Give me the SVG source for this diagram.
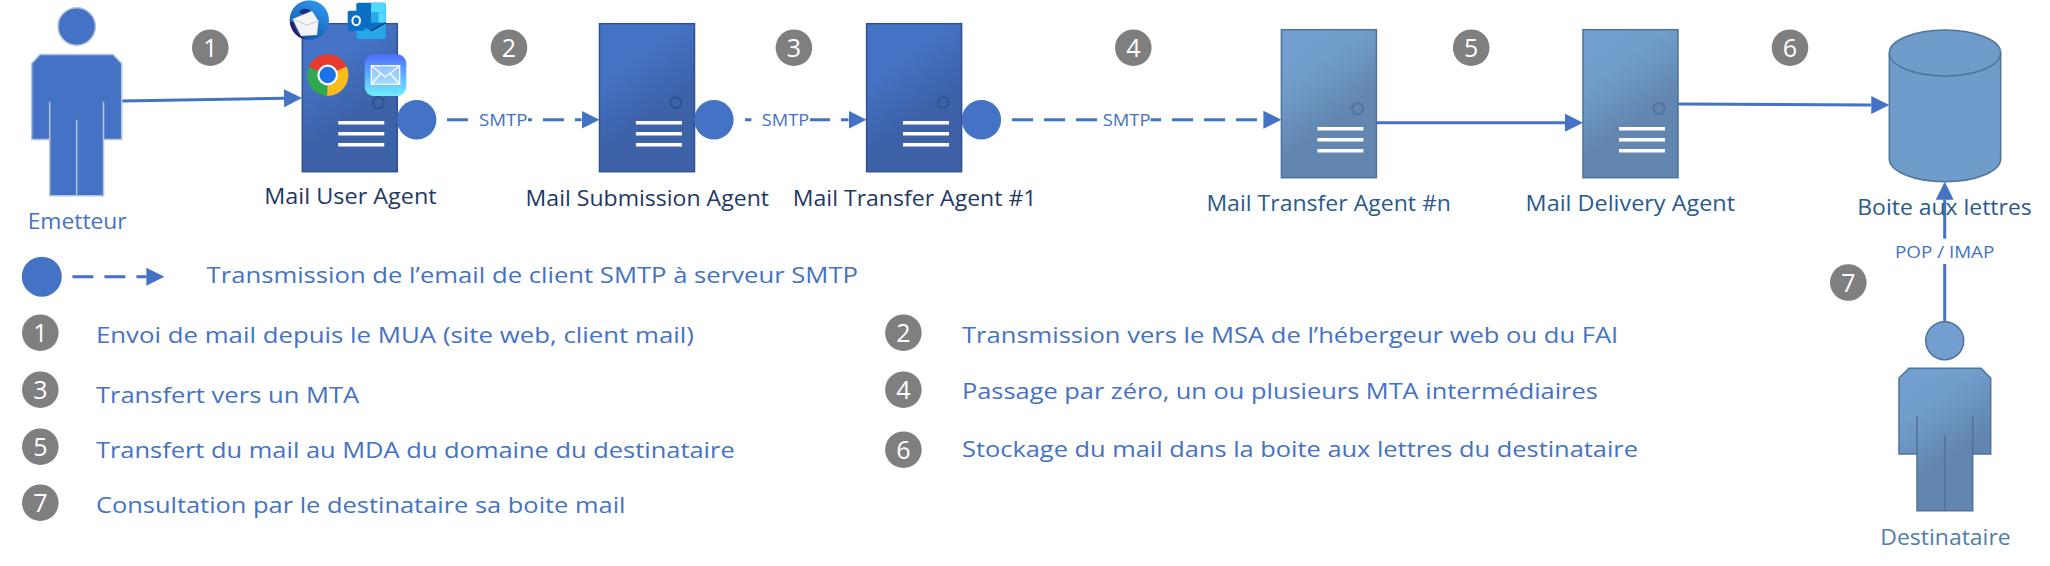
<svg xmlns="http://www.w3.org/2000/svg" width="2050" height="566" viewBox="0 0 2050 566">
<style>
text{font-family:"Open Sans","Noto Sans","Liberation Sans",sans-serif;font-size:22px}
.lg{fill:#4472C4}
.dark{fill:#1F3864}
.mid{fill:#2A5A8C}
.dest{fill:#4F7DA8}
.em{fill:#4472C4}
.sm{fill:#4472C4;font-size:17px}
.num{fill:#fff;font-size:25px;text-anchor:middle}
.bdg{fill:#7F7F7F}
.srvA{fill:url(#gA);stroke:#2F528F;stroke-width:1.5}
.srvB{fill:url(#gB);stroke:#4E739C;stroke-width:1.5}
.doorA{fill:none;stroke:#2F528F;stroke-width:2}
.doorB{fill:none;stroke:#4E739C;stroke-width:2}
.bar{fill:#fff}
.dot{fill:#4472C4}
.ln{fill:none;stroke:#4472C4;stroke-width:3}
.arrow{marker-end:url(#ah)}
.dash{stroke-dasharray:21 11}
.mask{fill:#fff}
.pA{fill:#4472C4;stroke:#B4C3E0;stroke-width:1.5}
.pB{fill:url(#gB);stroke:#4E739C;stroke-width:1.5}
.sepA{stroke:#B4C3E0;stroke-width:1.5}
.sepB{stroke:#4E739C;stroke-width:1.5}
</style>
<defs>
<linearGradient id="gA" x1="0.35" y1="0.05" x2="0.6" y2="0.6"><stop offset="0" stop-color="#4472C4"/><stop offset="0.3" stop-color="#4472C4"/><stop offset="1" stop-color="#3D62A8"/></linearGradient>
<linearGradient id="gB" x1="0.35" y1="0.05" x2="0.6" y2="0.6"><stop offset="0" stop-color="#729FCF"/><stop offset="0.3" stop-color="#719DCB"/><stop offset="1" stop-color="#6286B0"/></linearGradient>
<linearGradient id="gMail" x1="0" y1="0" x2="0" y2="1"><stop offset="0" stop-color="#4F6CFF"/><stop offset="1" stop-color="#6FEFFF"/></linearGradient>
<linearGradient id="gTb" x1="0.8" y1="0" x2="0.2" y2="1"><stop offset="0" stop-color="#2F9BEF"/><stop offset="1" stop-color="#0F4FA8"/></linearGradient>
<marker id="ah" markerUnits="userSpaceOnUse" markerWidth="19" markerHeight="20" refX="0" refY="9.5" orient="auto"><path d="M0 .5L18 9.5L0 18.5Z" fill="#4472C4"/></marker>
</defs>

<g id="connectors">
<path class="ln arrow" d="M121.7 101L284 98.2"/>
<path class="ln arrow dash" d="M447 119.7H581.5"/>
<path class="ln arrow dash" d="M745 119.7H848.5"/>
<path class="ln arrow dash" d="M1012 119.7H1263.4"/>
<path class="ln arrow" d="M1376.3 122.7H1565"/>
<path class="ln arrow" d="M1678 104L1871.300 105"/>
<path class="ln arrow" d="M1944.700 321.700V199.700"/>
<path class="ln arrow dash" d="M72.400 276.700H146.400"/>
<rect class="mask" x="475" y="108" width="53" height="24"/>
<rect class="mask" x="751.400" y="108" width="58.600" height="24"/>
<rect class="mask" x="1098" y="108" width="52.500" height="24"/>
<rect class="mask" x="1890" y="238.700" width="108" height="25.300"/>
</g>

<g id="emetteur">
<circle class="pA" cx="76.700" cy="26.500" r="18.700"/>
<path class="pA" d="M40 54.500H113L121.700 63.500V139.500H103.500V195.700H49.700V139.500H31.700V63.500Z"/>
<path class="sepA" d="M49.700 101.700V139.500M103.500 101.700V139.500M76.700 120V195.700"/>
<text class="em" x="27.700" y="229" textLength="99" lengthAdjust="spacingAndGlyphs">Emetteur</text>
</g>

<g id="mua">
<rect class="srvA" x="302.300" y="23.700" width="95" height="148"/>
<circle class="doorA" cx="378.300" cy="102.700" r="5.500"/>
<rect class="bar" x="338.300" y="121" width="46" height="3.500"/>
<rect class="bar" x="338.300" y="132" width="46" height="3.500"/>
<rect class="bar" x="338.300" y="143" width="46" height="3.500"/>
<g id="icon-thunderbird">
<circle cx="309.300" cy="20" r="19.700" fill="url(#gTb)"/>
<path d="M290 22C291 31 297 38 306 39.500C299 36 295 30 294 22Z" fill="#2B1C6B"/>
<path d="M299 12C302 8 307 8 311 11L304 15Z" fill="#1F2F80"/>
<path d="M292.500 19L312 11L318.500 21L317 35L301 36Z" fill="#F4F4F6"/>
<path d="M292.500 19L307 25L318.500 21" fill="none" stroke="#C8CCD6" stroke-width="1"/>
</g>
<g id="icon-outlook">
<rect x="356.300" y="2.700" width="29.400" height="36.300" rx="2" fill="#0A6FC2"/>
<rect x="371" y="2.700" width="14.700" height="10" fill="#50D9FF"/>
<rect x="371" y="12.700" width="7.300" height="10" fill="#28A8EA"/>
<rect x="378.300" y="12.700" width="7.400" height="10" fill="#50D9FF"/>
<path d="M356.300 22.700L371 31L385.700 22.700V37A2 2 0 0 1 383.700 39H358.300A2 2 0 0 1 356.300 37Z" fill="#28A8EA"/>
<path d="M371 31L385.700 22.700" fill="none" stroke="#0A2767" stroke-width="1.200"/>
<rect x="347.700" y="10.700" width="17" height="20" rx="1.500" fill="#0A6FC2"/>
<ellipse cx="356.200" cy="20.700" rx="3.800" ry="4.500" fill="none" stroke="#fff" stroke-width="2"/>
</g>
<g id="icon-chrome">
<path d="M327.700 75L308.650 66.910A20.700 20.700 0 0 1 346.600 66.600Z" fill="#E53B2E"/>
<path d="M327.700 75L346.600 66.600A20.700 20.700 0 0 1 327 95.700Z" fill="#FBBC1A"/>
<path d="M327.700 75L327 95.700A20.700 20.700 0 0 1 308.650 66.910Z" fill="#2FA850"/>
<circle cx="327.700" cy="75" r="10.400" fill="#fff"/>
<circle cx="327.700" cy="75" r="8.200" fill="#1A73E8"/>
</g>
<g id="icon-mail">
<rect x="364.700" y="54.300" width="41.600" height="41.700" rx="9" fill="url(#gMail)"/>
<rect x="371.300" y="65.700" width="28.400" height="18.600" fill="#CDEBFF" fill-opacity="0.55" stroke="#fff" stroke-width="1.300"/>
<path d="M371.300 65.700L385.500 77L399.700 65.700M371.300 84.300L381 73.500M399.700 84.300L390 73.500" fill="none" stroke="#fff" stroke-width="1.300"/>
</g>
<circle class="dot" cx="416.700" cy="119.700" r="19.700"/>
<text class="dark" x="264.300" y="204" textLength="172.400" lengthAdjust="spacingAndGlyphs">Mail User Agent</text>
</g>

<g id="msa">
<rect class="srvA" x="599.500" y="23.700" width="95" height="148"/>
<circle class="doorA" cx="675.700" cy="102.700" r="5.500"/>
<rect class="bar" x="635.900" y="121" width="46" height="3.500"/>
<rect class="bar" x="635.900" y="132" width="46" height="3.500"/>
<rect class="bar" x="635.900" y="143" width="46" height="3.500"/>
<circle class="dot" cx="713.900" cy="119.700" r="19.700"/>
<text class="dark" x="525.600" y="205.700" textLength="243.400" lengthAdjust="spacingAndGlyphs">Mail Submission Agent</text>
</g>

<g id="mta1">
<rect class="srvA" x="866.600" y="23.700" width="95" height="148"/>
<circle class="doorA" cx="943.200" cy="102.700" r="5.500"/>
<rect class="bar" x="903" y="121" width="46" height="3.500"/>
<rect class="bar" x="903" y="132" width="46" height="3.500"/>
<rect class="bar" x="903" y="143" width="46" height="3.500"/>
<circle class="dot" cx="981.400" cy="119.700" r="19.700"/>
<text class="dark" x="792.800" y="205.700" textLength="243.700" lengthAdjust="spacingAndGlyphs">Mail Transfer Agent #1</text>
</g>

<g id="mtan">
<rect class="srvB" x="1281.400" y="29.700" width="95" height="148"/>
<circle class="doorB" cx="1357.600" cy="108.700" r="5.500"/>
<rect class="bar" x="1317.400" y="127" width="46" height="3.500"/>
<rect class="bar" x="1317.400" y="138" width="46" height="3.500"/>
<rect class="bar" x="1317.400" y="149" width="46" height="3.500"/>
<text class="mid" x="1206.400" y="211.300" textLength="244.600" lengthAdjust="spacingAndGlyphs">Mail Transfer Agent #n</text>
</g>

<g id="mda">
<rect class="srvB" x="1583" y="29.700" width="95" height="148"/>
<circle class="doorB" cx="1659.100" cy="108.700" r="5.500"/>
<rect class="bar" x="1619" y="127" width="46" height="3.500"/>
<rect class="bar" x="1619" y="138" width="46" height="3.500"/>
<rect class="bar" x="1619" y="149" width="46" height="3.500"/>
<text class="mid" x="1525.600" y="211.300" textLength="209.400" lengthAdjust="spacingAndGlyphs">Mail Delivery Agent</text>
</g>

<g id="boite">
<path d="M1889.300 53V158.700A55.700 23 0 0 0 2000.700 158.700V53A55.700 23 0 0 0 1889.300 53Z" fill="#709CCB" stroke="#50759C" stroke-width="1.500"/>
<path d="M1889.300 53A55.700 23 0 0 0 2000.700 53" fill="none" stroke="#50759C" stroke-width="1.500"/>
<text class="mid" x="1857.300" y="215" textLength="174.400" lengthAdjust="spacingAndGlyphs">Boite aux lettres</text>
</g>

<g id="destinataire">
<circle cx="1944.700" cy="340.700" r="19" fill="#729FCF" stroke="#4E739C" stroke-width="1.500"/>
<path class="pB" d="M1909 368.300H1981L1990.700 378V454H1972.700V510.700H1917V454H1899V378Z"/>
<path class="sepB" d="M1917 416V454M1972.700 416V454M1944.700 435V510.700"/>
<text class="dest" x="1880.300" y="545" textLength="130.400" lengthAdjust="spacingAndGlyphs">Destinataire</text>
</g>

<g id="labels-protocol">
<text class="sm" x="479" y="126" textLength="48.600" lengthAdjust="spacingAndGlyphs">SMTP</text>
<text class="sm" x="761.800" y="126" textLength="47.400" lengthAdjust="spacingAndGlyphs">SMTP</text>
<text class="sm" x="1102.700" y="126" textLength="47.800" lengthAdjust="spacingAndGlyphs">SMTP</text>
<text class="sm" x="1895" y="257.700" textLength="99.300" lengthAdjust="spacingAndGlyphs">POP / IMAP</text>
</g>

<g id="step-badges">
<circle class="bdg" cx="210.300" cy="47.700" r="18.300"/><text class="num" x="210.300" y="57">1</text>
<circle class="bdg" cx="509" cy="47.700" r="18.300"/><text class="num" x="509" y="57">2</text>
<circle class="bdg" cx="793.900" cy="47.700" r="18.300"/><text class="num" x="793.900" y="57">3</text>
<circle class="bdg" cx="1133.300" cy="47.700" r="18.300"/><text class="num" x="1133.300" y="57">4</text>
<circle class="bdg" cx="1471.200" cy="47.700" r="18.300"/><text class="num" x="1471.200" y="57">5</text>
<circle class="bdg" cx="1790" cy="47.700" r="18.300"/><text class="num" x="1790" y="57">6</text>
<circle class="bdg" cx="1848.300" cy="282.500" r="18.300"/><text class="num" x="1848.300" y="291.800">7</text>
</g>

<g id="legend">
<circle class="dot" cx="41.800" cy="276.700" r="20"/>
<text class="lg" x="206.600" y="283.300" textLength="651.400" lengthAdjust="spacingAndGlyphs">Transmission de l’email de client SMTP à serveur SMTP</text>
<circle class="bdg" cx="40.300" cy="332.700" r="18.300"/><text class="num" x="40.300" y="342">1</text>
<text class="lg" x="95.900" y="342.700" textLength="598" lengthAdjust="spacingAndGlyphs">Envoi de mail depuis le MUA (site web, client mail)</text>
<circle class="bdg" cx="40.300" cy="389.700" r="18.300"/><text class="num" x="40.300" y="399">3</text>
<text class="lg" x="95.900" y="402.700" textLength="263.300" lengthAdjust="spacingAndGlyphs">Transfert vers un MTA</text>
<circle class="bdg" cx="40.300" cy="446.700" r="18.300"/><text class="num" x="40.300" y="456">5</text>
<text class="lg" x="95.900" y="458.300" textLength="638.800" lengthAdjust="spacingAndGlyphs">Transfert du mail au MDA du domaine du destinataire</text>
<circle class="bdg" cx="40.300" cy="502.700" r="18.300"/><text class="num" x="40.300" y="512">7</text>
<text class="lg" x="95.900" y="513.300" textLength="529.600" lengthAdjust="spacingAndGlyphs">Consultation par le destinataire sa boite mail</text>
<circle class="bdg" cx="903.400" cy="332.700" r="18.300"/><text class="num" x="903.400" y="342">2</text>
<text class="lg" x="962" y="342.700" textLength="656.200" lengthAdjust="spacingAndGlyphs">Transmission vers le MSA de l’hébergeur web ou du FAI</text>
<circle class="bdg" cx="903.400" cy="389.700" r="18.300"/><text class="num" x="903.400" y="399">4</text>
<text class="lg" x="962" y="399.300" textLength="635.800" lengthAdjust="spacingAndGlyphs">Passage par zéro, un ou plusieurs MTA intermédiaires</text>
<circle class="bdg" cx="903.400" cy="449.700" r="18.300"/><text class="num" x="903.400" y="459">6</text>
<text class="lg" x="962" y="456.700" textLength="676" lengthAdjust="spacingAndGlyphs">Stockage du mail dans la boite aux lettres du destinataire</text>
</g>
</svg>
